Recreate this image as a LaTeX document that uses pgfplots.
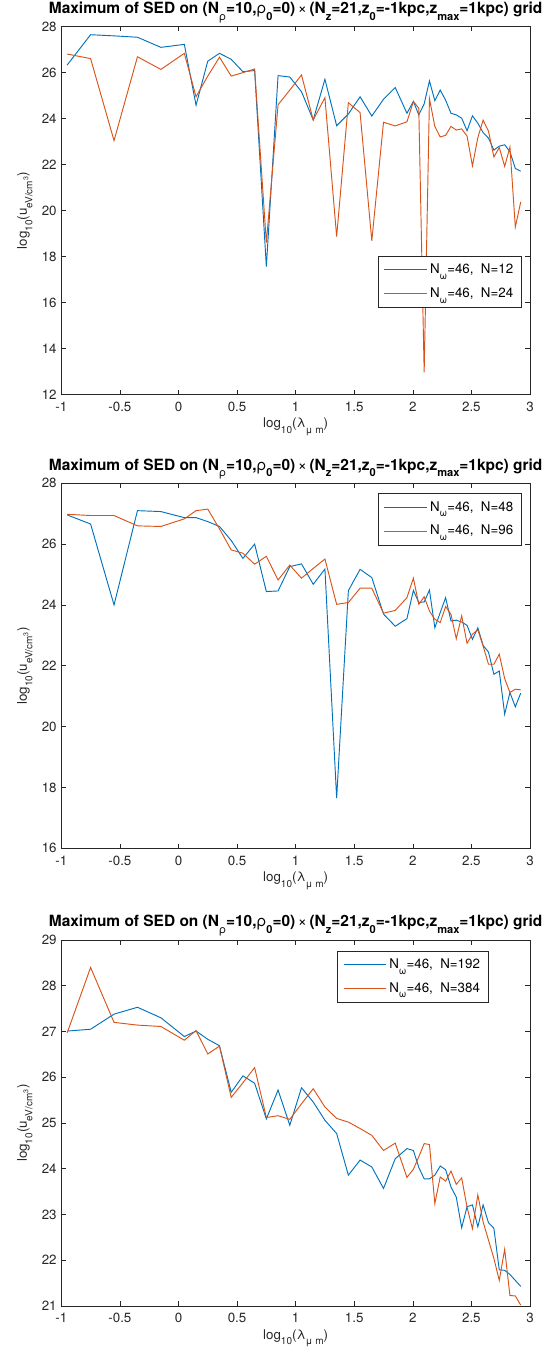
\documentclass[border=0pt]{standalone}
\usepackage{pgfplots}
\pgfplotsset{compat=1.18}
\usepackage{pgfplotstable}
\usepackage{fontspec}
\setmainfont{TeX Gyre Heros}
\definecolor{mblue}{rgb}{0,0.447,0.741}
\definecolor{mred}{rgb}{0.85,0.325,0.098}
\definecolor{axgray}{rgb}{0.15,0.15,0.15}
\newcommand{\sub}[1]{\raisebox{-0.8ex}{\fontsize{7.5}{8}\selectfont #1}}
\newcommand{\tsub}[1]{\raisebox{-0.8ex}{\fontsize{8.3}{9}\selectfont #1}}
\newcommand{\tsubb}[1]{\raisebox{-0.8ex}{\fontsize{8.3}{9}\selectfont\bfseries #1}}
\newcommand{\ttl}{\bfseries Maximum of SED on (N\tsub{\mdseries ρ}=10,{\mdseries ρ}\tsubb{0}=0){\mdseries\,×\,}(N\tsubb{z}=21,z\tsubb{0}=-1kpc,z\tsubb{max}=1kpc) grid}

\pgfplotstableread{
x b r
-0.95 26.33 26.81
-0.75 27.65 26.61
-0.55 27.60 23.04
-0.35 27.54 26.69
-0.15 27.10 26.14
0.05 27.23 26.84
0.15 24.58 24.95
0.25 26.50 25.85
0.35 26.84 26.67
0.45 26.58 25.85
0.55 26.04 26.00
0.65 26.09 26.16
0.75 17.56 18.60
0.85 25.87 24.60
0.95 25.81 25.24
1.05 25.17 25.90
1.15 23.94 23.94
1.25 25.71 24.91
1.35 23.69 18.86
1.45 24.20 24.69
1.55 24.95 24.26
1.65 24.11 18.68
1.75 24.84 23.84
1.85 25.35 23.68
1.95 24.23 23.86
2.005 24.75 24.74
2.051 24.16 24.45
2.097 24.64 12.95
2.142 25.64 24.87
2.188 24.78 23.66
2.234 25.24 23.20
2.280 24.80 23.27
2.326 24.23 23.66
2.371 24.16 23.50
2.417 24.02 23.55
2.463 23.47 23.24
2.509 24.12 21.94
2.555 23.80 23.17
2.600 23.39 23.93
2.646 23.15 23.45
2.692 22.63 22.33
2.738 22.80 22.74
2.784 22.86 21.92
2.829 22.56 22.76
2.875 21.83 19.28
2.921 21.71 20.37
}\dataA

\pgfplotstableread{
x b r
-0.95 26.96 26.98
-0.75 26.66 26.94
-0.55 24.00 26.94
-0.35 27.10 26.60
-0.15 27.07 26.58
0.05 26.87 26.83
0.15 26.87 27.10
0.25 26.74 27.15
0.35 26.58 26.50
0.45 26.12 25.81
0.55 25.53 25.70
0.65 26.00 25.34
0.75 24.44 25.60
0.85 24.46 24.82
0.95 25.26 25.31
1.05 25.35 24.88
1.15 24.68 25.20
1.25 25.18 25.51
1.35 17.65 24.02
1.45 24.47 24.08
1.55 25.17 24.55
1.65 24.90 24.55
1.75 23.70 23.73
1.85 23.30 23.82
1.95 23.55 24.24
2.005 24.48 24.88
2.051 24.08 24.02
2.097 24.10 24.27
2.142 24.49 23.80
2.188 23.25 23.53
2.234 23.75 23.42
2.280 24.24 23.95
2.326 23.47 23.69
2.371 23.50 22.89
2.417 23.44 23.64
2.463 23.33 22.74
2.509 22.87 23.04
2.555 23.25 23.18
2.600 22.67 22.65
2.646 22.45 22.05
2.692 21.72 22.05
2.738 21.83 22.38
2.784 20.41 21.58
2.829 21.12 21.12
2.875 20.65 21.23
2.921 21.10 21.21
}\dataB

\pgfplotstableread{
x b r
-0.95 27.01 26.97
-0.75 27.05 28.40
-0.55 27.38 27.20
-0.35 27.53 27.14
-0.15 27.30 27.11
0.05 26.89 26.81
0.15 27.01 27.02
0.25 26.83 26.51
0.35 26.69 26.68
0.45 25.67 25.56
0.55 26.03 25.88
0.65 25.87 26.21
0.75 25.09 25.12
0.85 25.72 25.16
0.95 24.95 25.08
1.05 25.77 25.42
1.15 25.46 25.75
1.25 25.06 25.35
1.35 24.77 25.10
1.45 23.86 25.02
1.55 24.19 24.88
1.65 24.04 24.73
1.75 23.57 24.40
1.85 24.22 24.56
1.95 24.44 23.81
2.005 24.40 23.99
2.051 24.03 24.26
2.097 23.78 24.55
2.142 23.78 24.53
2.188 23.86 23.24
2.234 24.06 23.82
2.280 23.98 23.73
2.326 23.60 23.95
2.371 23.38 23.66
2.417 22.71 23.80
2.463 23.17 23.16
2.509 23.21 22.69
2.555 22.73 23.43
2.600 23.21 22.84
2.646 22.82 22.44
2.692 22.70 22.04
2.738 21.79 21.56
2.784 21.78 22.24
2.829 21.69 21.23
2.875 21.56 21.22
2.921 21.43 21.02
}\dataC

\pgfplotsset{mstyle/.style={
  scale only axis, width=351.5pt,
  xmin=-1, xmax=3,
  xtick={-1,-0.5,0,0.5,1,1.5,2,2.5,3},
  xticklabels={-1,-0.5,0,0.5,1,1.5,2,2.5,3},
  axis line style={axgray, line width=0.45pt},
  tick style={axgray, line width=0.45pt},
  major tick length=3.5pt,
  tick align=inside,
  ticklabel style={font=\fontsize{10}{11}\selectfont, text=axgray},
  xticklabel style={yshift=-2pt},
  xlabel={log\sub{10}(λ\sub{μ m})},
  ylabel={log\sub{10}(u\sub{eV/cm\textsuperscript{3}})},
  label style={font=\fontsize{10}{11}\selectfont, text=axgray},
  xlabel style={yshift=2pt},
  title={\ttl},
  title style={font=\fontsize{11.6}{12}\selectfont, text=black, yshift=-6.5pt},
  legend style={font=\fontsize{10}{11}\selectfont, draw=axgray, fill=white, line width=0.45pt, anchor=north east, inner xsep=4pt, inner ysep=4pt, row sep=5pt},
  legend cell align=left,
  bluelg/.style={legend image code/.code={\draw[mblue, line width=0.7pt] (0pt,0pt) -- (32pt,0pt);}},
  redlg/.style={legend image code/.code={\draw[mred, line width=0.7pt] (0pt,0pt) -- (32pt,0pt);}},
  every axis plot/.append style={line width=0.7pt, mark=none},
}}

\begin{document}
\begin{tikzpicture}
\useasboundingbox (0,0) rectangle (413.25pt,-1023.75pt);
\begin{axis}[mstyle, at={(45.98pt,-295.7pt)}, anchor=south west, height=275.7pt,
  ymin=12, ymax=28, ytick={12,14,...,28}, yticklabels={12,14,16,18,20,22,24,26,28},
  legend style={at={(0.982,0.377)}}]
\addplot[draw=mblue, bluelg] table[x=x,y=b]{\dataA};
\addlegendentry{N\sub{ω}=46,\ \ N=12}
\addplot[draw=mred, redlg] table[x=x,y=r]{\dataA};
\addlegendentry{N\sub{ω}=46,\ \ N=24}
\end{axis}
\begin{axis}[mstyle, at={(45.98pt,-636.2pt)}, anchor=south west, height=273.75pt,
  ymin=16, ymax=28, ytick={16,18,...,28}, yticklabels={16,18,20,22,24,26,28},
  legend style={at={(0.982,0.973)}}]
\addplot[draw=mblue, bluelg] table[x=x,y=b]{\dataB};
\addlegendentry{N\sub{ω}=46,\ \ N=48}
\addplot[draw=mred, redlg] table[x=x,y=r]{\dataB};
\addlegendentry{N\sub{ω}=46,\ \ N=96}
\end{axis}
\begin{axis}[mstyle, at={(45.98pt,-979.5pt)}, anchor=south west, height=274.5pt,
  ymin=21, ymax=29, ytick={21,...,29}, yticklabels={21,22,23,24,25,26,27,28,29},
  legend style={at={(0.911,0.971)}}]
\addplot[draw=mblue, bluelg] table[x=x,y=b]{\dataC};
\addlegendentry{N\sub{ω}=46,\ \ N=192}
\addplot[draw=mred, redlg] table[x=x,y=r]{\dataC};
\addlegendentry{N\sub{ω}=46,\ \ N=384}
\end{axis}
\end{tikzpicture}
\end{document}
